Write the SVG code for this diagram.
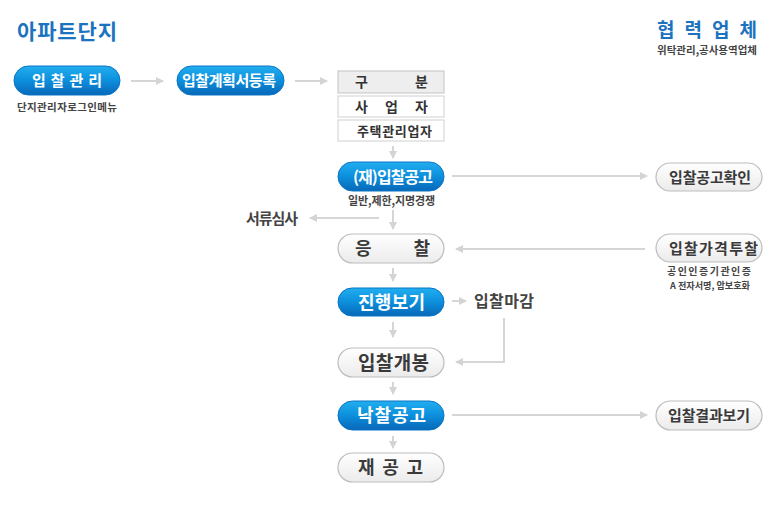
<svg xmlns="http://www.w3.org/2000/svg" width="776" height="505" viewBox="0 0 776 505">
<defs>
<linearGradient id="gBlue" x1="0" y1="0" x2="0" y2="1">
<stop offset="0" stop-color="#22aef0"/>
<stop offset="0.5" stop-color="#0c8fdc"/>
<stop offset="1" stop-color="#0868b8"/>
</linearGradient>
<linearGradient id="gGray" x1="0" y1="0" x2="0" y2="1">
<stop offset="0" stop-color="#ffffff"/>
<stop offset="1" stop-color="#ebebeb"/>
</linearGradient>
<marker id="ah" markerWidth="8" markerHeight="8" refX="7" refY="4" orient="auto" markerUnits="userSpaceOnUse">
<path d="M0,0 L8,4 L0,8 z" fill="#d4d4d4"/>
</marker>
</defs>
<style>
text{font-family:"Noto Sans CJK KR","Noto Sans",sans-serif;font-weight:bold}
.blue rect{fill:url(#gBlue);stroke:#0a74c4;stroke-width:1}
.blue text{fill:#fff}
.gray rect{fill:url(#gGray);stroke:#bdbdbd;stroke-width:1.2}
.gray text{fill:#3a3a3a}
.cell{fill:#fff;stroke:#d0d0d0;stroke-width:1}
.hdr{fill:#eeeeee;stroke:#c4c4c4;stroke-width:1}
.ct{fill:#333}
.sub{fill:#444}
.lbl{fill:#444}
.title{fill:#1b73c0}
#connectors line,#connectors path{stroke:#d6d6d6;stroke-width:2;fill:none;marker-end:url(#ah)}
</style>
<rect width="776" height="505" fill="#fff"/>

<text class="title" x="17" y="39" font-size="21" textLength="100" lengthAdjust="spacing">아파트단지</text>
<text class="title" x="657" y="37" font-size="19" textLength="100" lengthAdjust="spacing">협력업체</text>
<text class="sub" x="657" y="54" font-size="10" textLength="100" lengthAdjust="spacingAndGlyphs">위탁관리,공사용역업체</text>

<g id="connectors">
<line x1="131" y1="81" x2="163" y2="81"/>
<line x1="295" y1="81" x2="327" y2="81"/>
<line x1="393" y1="146" x2="393" y2="158"/>
<line x1="452" y1="176" x2="647" y2="176"/>
<line x1="393" y1="210" x2="393" y2="229"/>
<line x1="379" y1="218" x2="310" y2="218"/>
<line x1="645" y1="249" x2="456" y2="249"/>
<line x1="393" y1="268" x2="393" y2="281"/>
<line x1="452" y1="301" x2="466" y2="301"/>
<path d="M504,318 V362 H456"/>
<line x1="393" y1="322" x2="393" y2="337"/>
<line x1="393" y1="382" x2="393" y2="394"/>
<line x1="452" y1="415" x2="647" y2="415"/>
<line x1="393" y1="436" x2="393" y2="448"/>
</g>

<g id="n-login" class="blue">
<rect x="14" y="66" width="106" height="29" rx="14.5"/>
<text x="32" y="86" font-size="15" textLength="70" lengthAdjust="spacing">입찰관리</text>
</g>
<text class="sub" x="17" y="111" font-size="10.5" textLength="100" lengthAdjust="spacing">단지관리자로그인메뉴</text>

<g id="n-plan" class="blue">
<rect x="177" y="66" width="107" height="29" rx="14.5"/>
<text x="182" y="86" font-size="15" textLength="94" lengthAdjust="spacing">입찰계획서등록</text>
</g>

<g id="n-table">
<rect class="hdr" x="338" y="71" width="106" height="22"/>
<text class="ct" x="355" y="87" font-size="14" textLength="73" lengthAdjust="spacing">구분</text>
<rect class="cell" x="338" y="96" width="106" height="21"/>
<text class="ct" x="355" y="111.5" font-size="14" textLength="73" lengthAdjust="spacing">사업자</text>
<rect class="cell" x="338" y="120" width="106" height="21"/>
<text class="ct" x="357" y="135.5" font-size="13" textLength="75" lengthAdjust="spacing">주택관리업자</text>
</g>

<g id="n-notice" class="blue">
<rect x="338" y="162" width="106" height="29" rx="14.5"/>
<text x="353" y="182.5" font-size="16" textLength="80" lengthAdjust="spacing">(재)입찰공고</text>
</g>
<text class="sub" x="348" y="205" font-size="11" textLength="87" lengthAdjust="spacing">일반,제한,지명경쟁</text>

<g id="n-notice-check" class="gray">
<rect x="656" y="163" width="106" height="28" rx="14"/>
<text x="669" y="182.5" font-size="15" textLength="82" lengthAdjust="spacing">입찰공고확인</text>
</g>

<text id="n-review" class="lbl" x="246" y="223.5" font-size="15" textLength="52" lengthAdjust="spacing">서류심사</text>

<g id="n-bid" class="gray">
<rect x="338" y="234" width="106" height="29" rx="14.5"/>
<text x="355" y="255" font-size="18" textLength="75" lengthAdjust="spacing">응찰</text>
</g>

<g id="n-price" class="gray">
<rect x="656" y="234" width="106" height="28" rx="14"/>
<text x="669" y="253.5" font-size="15" textLength="89" lengthAdjust="spacing">입찰가격투찰</text>
</g>
<text class="sub" x="667" y="275" font-size="10" textLength="84" lengthAdjust="spacing">공인인증기관인증</text>
<text class="sub" x="670" y="289" font-size="9" textLength="80" lengthAdjust="spacingAndGlyphs" xml:space="preserve">A 전자서명, 암보호화</text>

<g id="n-progress" class="blue">
<rect x="338" y="288" width="106" height="28" rx="14"/>
<text x="358" y="308.5" font-size="18" textLength="67" lengthAdjust="spacing">진행보기</text>
</g>
<text id="n-close" class="lbl" x="474" y="307" font-size="16" textLength="60" lengthAdjust="spacing">입찰마감</text>

<g id="n-open" class="gray">
<rect x="338" y="348" width="106" height="29" rx="14.5"/>
<text x="358" y="369.5" font-size="19" textLength="71" lengthAdjust="spacing">입찰개봉</text>
</g>

<g id="n-award" class="blue">
<rect x="338" y="401" width="106" height="29" rx="14.5"/>
<text x="357" y="422" font-size="18" textLength="69" lengthAdjust="spacing">낙찰공고</text>
</g>

<g id="n-result" class="gray">
<rect x="656" y="401" width="106" height="29" rx="14.5"/>
<text x="668" y="421" font-size="15" textLength="82" lengthAdjust="spacing">입찰결과보기</text>
</g>

<g id="n-renotice" class="gray">
<rect x="338" y="453" width="106" height="29" rx="14.5"/>
<text x="358" y="474" font-size="18" textLength="65" lengthAdjust="spacing">재공고</text>
</g>
</svg>
